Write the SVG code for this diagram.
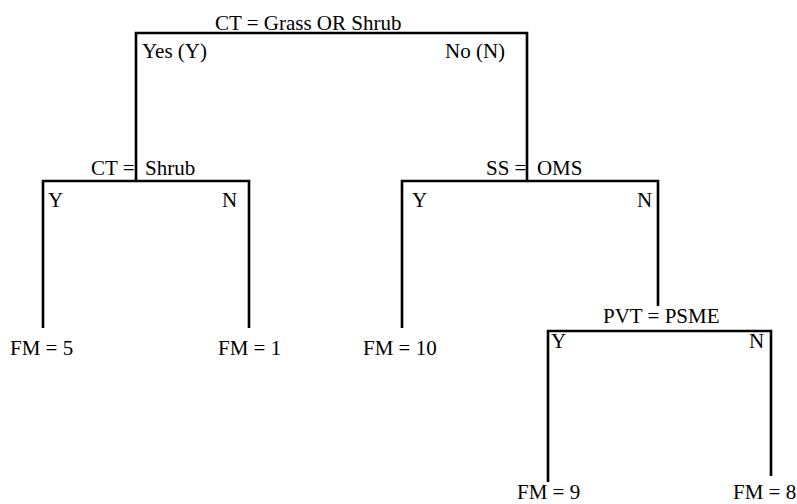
<svg xmlns="http://www.w3.org/2000/svg" width="797" height="504" viewBox="0 0 797 504">
<style>
text{font-family:"Liberation Serif","Times New Roman",serif;font-size:21px;fill:#000}
.c{fill:none;stroke:#000;stroke-width:2.6;stroke-linecap:butt;stroke-linejoin:miter}
</style>
<rect width="797" height="504" fill="#fff"/>
<g id="connectors">
<path class="c" d="M136 181V33H527V181"/>
<path class="c" d="M43 328V181H249V328"/>
<path class="c" d="M402 328V181H658V306"/>
<path class="c" d="M548 482V331H771V476"/>
<text x="142" y="58">Yes (Y)</text>
<text x="445" y="58">No (N)</text>
<text x="48" y="207">Y</text>
<text x="222" y="207">N</text>
<text x="412" y="207">Y</text>
<text x="637" y="207">N</text>
<text x="551" y="348">Y</text>
<text x="749" y="348">N</text>
</g>
<g id="n-root"><text x="215" y="30">CT = Grass OR Shrub</text></g>
<g id="n-ct-shrub"><text x="91" y="175" xml:space="preserve">CT =  Shrub</text></g>
<g id="n-ss-oms"><text x="486" y="175" xml:space="preserve">SS =  OMS</text></g>
<g id="n-pvt"><text x="603" y="323">PVT = PSME</text></g>
<g id="n-fm5"><text x="10" y="355">FM = 5</text></g>
<g id="n-fm1"><text x="218" y="355">FM = 1</text></g>
<g id="n-fm10"><text x="363" y="355">FM = 10</text></g>
<g id="n-fm9"><text x="517" y="499">FM = 9</text></g>
<g id="n-fm8"><text x="733" y="499">FM = 8</text></g>
</svg>
